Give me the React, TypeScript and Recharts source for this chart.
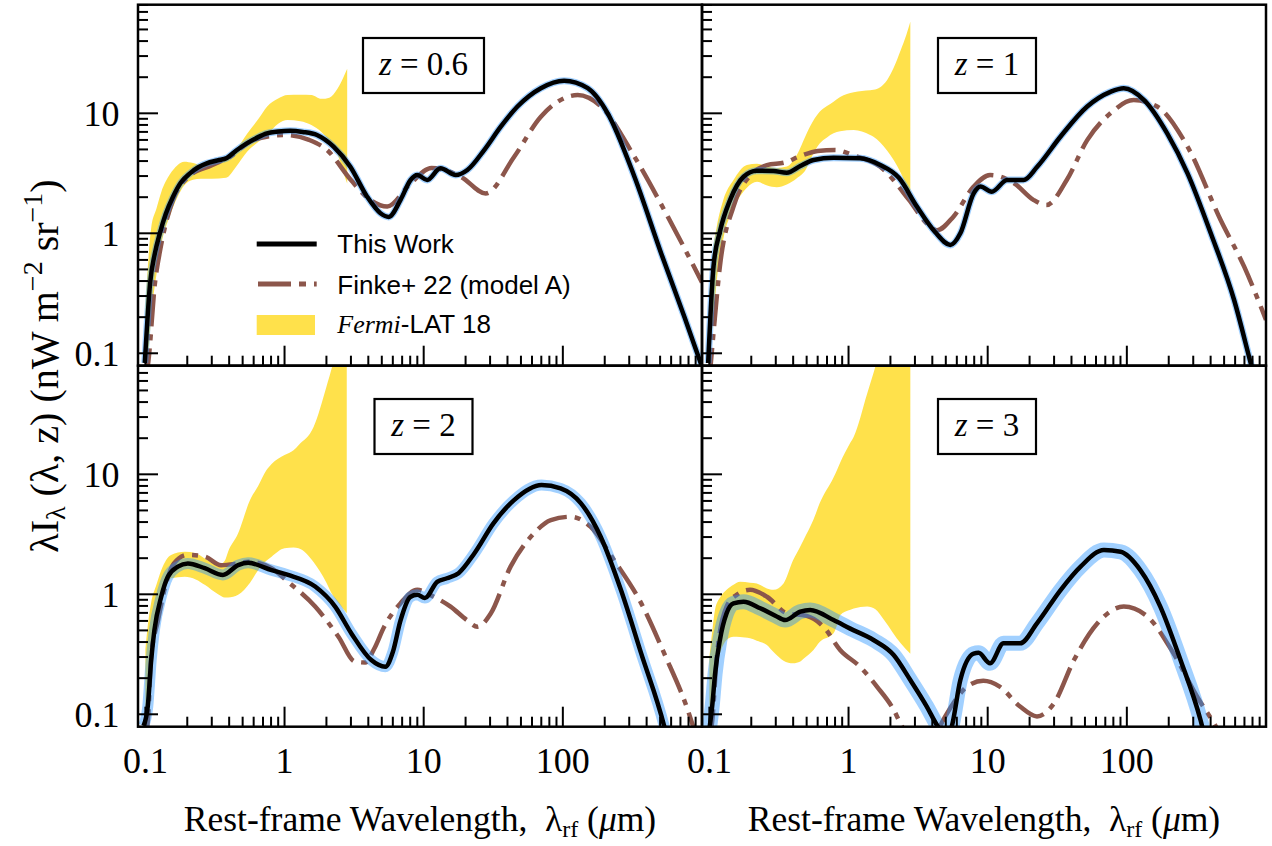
import React from 'react';
import { ComposedChart, Line, Area, XAxis, YAxis } from 'recharts';

// ---------- page & panel geometry ----------
const PAGE_W = 1272;
const PAGE_H = 846;
const COL_LEFT = [138, 702];
const ROW_TOP = [4.7, 365.7];
const PLOT_W = 564;
const PLOT_H = 361;

const X_DOMAIN: [number, number] = [0.0885, 1000];
const Y_DOMAIN: [number, number] = [0.0788, 80.4];

const X_MAJOR = [0.1, 1, 10, 100];
const X_MINOR = [0.2, 0.3, 0.4, 0.5, 0.6, 0.7, 0.8, 0.9, 2, 3, 4, 5, 6, 7, 8, 9, 20, 30, 40, 50, 60, 70, 80, 90, 200, 300, 400, 500, 600, 700, 800, 900];
const Y_MAJOR = [0.1, 1, 10];
const Y_MINOR = [0.2, 0.3, 0.4, 0.5, 0.6, 0.7, 0.8, 0.9, 2, 3, 4, 5, 6, 7, 8, 9, 20, 30, 40, 50, 60, 70, 80];

const COLOR_TW = '#000000';
const COLOR_FINKE = '#8c564b';
const COLOR_FERMI = '#ffe14b';
const COLOR_BAND = '#1e90ff';

const SERIF = '"Liberation Serif", "Times New Roman", serif';
const SANS = '"Liberation Sans", Arial, sans-serif';

// ---------- z = 0.6 ----------
const z06TwLambda = [0.099, 0.102, 0.108, 0.117, 0.127, 0.14, 0.158, 0.18, 0.209, 0.24, 0.276, 0.33, 0.385, 0.45, 0.536, 0.64, 0.747, 0.9, 1.1, 1.35, 1.71, 2.25, 2.97, 3.92, 4.89, 5.61, 6.82, 8.05, 9.0, 10.6, 13.2, 17.0, 20.6, 27.2, 35.8, 47.2, 69.5, 102, 151, 210, 327, 509, 749, 961, 1000];
const z06Tw = [0.083, 0.147, 0.38, 0.68, 1.0, 1.45, 2.02, 2.65, 3.16, 3.55, 3.83, 4.05, 4.25, 4.9, 5.62, 6.3, 6.81, 7.05, 7.16, 7.0, 6.59, 5.27, 3.59, 2.02, 1.47, 1.37, 1.9, 2.78, 3.06, 2.78, 3.48, 3.06, 3.37, 4.94, 7.74, 11.4, 16.2, 18.7, 16.2, 10, 2.96, 0.68, 0.2, 0.088, 0.077];
const z06FinkeLambda = [0.1, 0.105, 0.117, 0.127, 0.14, 0.158, 0.2, 0.3, 0.4, 0.6, 1.0, 1.5, 2.0, 3.0, 4.0, 5.47, 8.05, 11.4, 18.5, 27.9, 44.7, 69.5, 128, 188, 327, 569, 1000];
const z06Finke = [0.06, 0.085, 0.38, 0.7, 1.2, 1.9, 2.9, 3.7, 4.3, 6.0, 6.6, 6.0, 5.0, 2.78, 1.95, 1.67, 2.61, 3.5, 2.96, 2.15, 4.35, 9.37, 14.2, 11.4, 4.35, 1.37, 0.39];
const z06FermiLambda = [0.1, 0.105, 0.11, 0.12, 0.13, 0.15, 0.17, 0.19, 0.22, 0.25, 0.3, 0.38, 0.45, 0.54, 0.65, 0.75, 0.9, 1.05, 1.3, 1.56, 1.84, 2.1, 2.4, 2.65, 2.82];
const z06FermiLo = [0.075, 0.1, 0.2, 0.45, 0.8, 1.4, 2.0, 2.5, 2.8, 2.85, 2.85, 2.9, 3.6, 4.8, 5.8, 6.6, 8.2, 8.8, 8.6, 8.0, 7.0, 5.9, 4.6, 3.2, 2.6];
const z06FermiHi = [0.25, 0.6, 1.1, 1.6, 2.2, 3.1, 3.7, 3.95, 3.85, 3.7, 3.75, 4.1, 5.0, 6.8, 9.0, 11.4, 13.3, 14.2, 14.3, 14.2, 13.2, 13.5, 16, 20, 23.5];

// ---------- z = 1 ----------
const z1TwLambda = [0.098, 0.107, 0.119, 0.141, 0.176, 0.219, 0.289, 0.36, 0.45, 0.56, 0.78, 1.21, 1.69, 2.3, 3.1, 4.2, 5.39, 6.36, 7.93, 8.87, 10.7, 13.8, 18.1, 22.7, 33.3, 51.9, 76.2, 95, 133, 195, 273, 401, 590, 778, 1000];
const z1Tw = [0.083, 0.527, 1.03, 1.9, 2.96, 3.32, 3.3, 3.2, 3.64, 4.08, 4.27, 4.22, 3.71, 2.9, 1.67, 1.02, 0.8, 1.0, 2.15, 2.45, 2.22, 2.78, 2.78, 3.59, 6.38, 11.4, 15.1, 16.2, 12.9, 6.81, 3.16, 1.0, 0.278, 0.082, 0.027];
const z1FinkeLambda = [0.1, 0.107, 0.119, 0.149, 0.2, 0.259, 0.35, 0.45, 0.6, 0.8, 1.09, 1.69, 2.72, 3.64, 4.33, 5.65, 7.93, 10.4, 15.5, 21.3, 26.4, 37, 51.9, 76.2, 112, 165, 273, 472, 697, 1000];
const z1Finke = [0.06, 0.147, 0.53, 1.67, 3.1, 3.7, 3.9, 4.4, 4.85, 4.95, 4.45, 3.59, 1.9, 1.21, 1.06, 1.37, 2.45, 3.06, 2.61, 1.9, 1.72, 2.78, 5.98, 10, 12.9, 11.4, 5.27, 1.29, 0.527, 0.19];
const z1FermiLambda = [0.1, 0.107, 0.113, 0.126, 0.149, 0.186, 0.22, 0.26, 0.305, 0.36, 0.425, 0.5, 0.53, 0.62, 0.7, 0.78, 0.87, 1.09, 1.43, 1.51, 1.89, 2.11, 2.37, 2.6, 2.78];
const z1FermiLo = [0.1, 0.2, 0.4, 0.9, 1.6, 2.4, 2.69, 2.5, 2.42, 2.55, 2.87, 3.5, 4.08, 5.6, 6.3, 6.81, 7.1, 7.25, 6.6, 6.38, 4.9, 4.08, 3.2, 2.5, 2.02];
const z1FermiHi = [0.3, 0.77, 1.14, 1.9, 2.78, 3.71, 3.8, 3.6, 3.5, 3.6, 4.5, 6.8, 7.8, 10.3, 11.5, 12.5, 13.7, 15, 15.6, 15.7, 18.9, 24, 33.6, 45, 58];

// ---------- z = 2 ----------
const z2TwLambda = [0.097, 0.104, 0.11, 0.116, 0.13, 0.145, 0.171, 0.202, 0.267, 0.361, 0.464, 0.548, 0.807, 1.06, 1.66, 2.31, 3.03, 4.2, 5.3, 6.0, 6.8, 8.0, 9.0, 10.2, 12.5, 14.7, 17.8, 23.1, 31.7, 44.6, 70.3, 96.3, 135, 187, 262, 366, 536, 700];
const z2Tw = [0.08, 0.116, 0.28, 0.5, 0.955, 1.4, 1.7, 1.81, 1.65, 1.45, 1.75, 1.83, 1.59, 1.45, 1.16, 0.79, 0.47, 0.283, 0.249, 0.33, 0.6, 0.95, 0.99, 0.93, 1.27, 1.36, 1.5, 2.19, 3.9, 6.1, 8.15, 7.64, 5.73, 3.02, 1.08, 0.32, 0.079, 0.02];
const z2FinkeLambda = [0.1, 0.105, 0.11, 0.123, 0.14, 0.16, 0.2, 0.267, 0.35, 0.45, 0.548, 0.807, 1.06, 1.66, 2.44, 3.2, 3.8, 4.4, 5.2, 6.8, 9.0, 11.8, 15.6, 20.4, 24.3, 30.4, 42.1, 62, 82, 114, 158, 233, 366, 536, 789, 1000];
const z2Finke = [0.06, 0.1, 0.3, 0.6, 1.2, 1.8, 2.13, 2.06, 1.75, 1.8, 1.87, 1.65, 1.27, 0.79, 0.443, 0.275, 0.27, 0.35, 0.537, 0.84, 1.09, 0.955, 0.79, 0.61, 0.537, 0.695, 1.7, 3.22, 4.16, 4.43, 3.66, 1.93, 0.84, 0.32, 0.109, 0.045];
const z2FermiLambda = [0.1, 0.105, 0.11, 0.12, 0.13, 0.153, 0.192, 0.23, 0.267, 0.333, 0.372, 0.393, 0.464, 0.565, 0.646, 0.74, 0.807, 1.0, 1.16, 1.26, 1.62, 2.0, 2.2, 2.5, 2.8];
const z2FermiLo = [0.1, 0.2, 0.35, 0.6, 0.85, 1.36, 1.4, 1.33, 1.2, 1.0, 0.94, 0.94, 0.99, 1.25, 1.59, 1.9, 2.06, 2.42, 2.45, 2.42, 1.85, 1.25, 1.0, 0.82, 0.695];
const z2FermiHi = [0.35, 0.6, 0.85, 1.2, 1.59, 2.13, 2.26, 2.2, 1.99, 1.75, 1.9, 2.26, 3.22, 6.1, 8.0, 10.8, 12.2, 14.5, 15.9, 17.5, 24.9, 53.6, 79, 150, 250];

// ---------- z = 3 ----------
const z3TwLambda = [0.1, 0.105, 0.11, 0.119, 0.133, 0.149, 0.176, 0.232, 0.3, 0.35, 0.45, 0.53, 0.78, 1.02, 1.51, 2.11, 2.78, 3.65, 4.33, 5.0, 5.5, 6.36, 7.93, 8.6, 10.4, 13.0, 17.1, 22.6, 33.3, 46.5, 68.4, 90.3, 125, 174, 243, 338, 400];
const z3Tw = [0.075, 0.12, 0.22, 0.416, 0.695, 0.84, 0.868, 0.765, 0.66, 0.61, 0.716, 0.74, 0.61, 0.52, 0.416, 0.312, 0.193, 0.116, 0.081, 0.065, 0.078, 0.193, 0.32, 0.325, 0.266, 0.39, 0.39, 0.573, 1.08, 1.7, 2.34, 2.26, 1.59, 0.79, 0.283, 0.09, 0.04];
const z3FinkeLambda = [0.1, 0.105, 0.113, 0.133, 0.157, 0.196, 0.259, 0.36, 0.5, 0.66, 0.87, 1.21, 1.6, 2.11, 2.4, 3.0, 4.0, 4.8, 5.65, 7.1, 9.3, 12.2, 17.1, 22.6, 29.9, 41.7, 61.5, 95, 141, 217, 320, 437, 520];
const z3Finke = [0.06, 0.09, 0.3, 0.79, 0.99, 1.09, 0.955, 0.695, 0.66, 0.537, 0.344, 0.249, 0.17, 0.109, 0.081, 0.058, 0.062, 0.09, 0.123, 0.17, 0.19, 0.17, 0.116, 0.096, 0.123, 0.283, 0.573, 0.79, 0.65, 0.32, 0.14, 0.079, 0.055];
const z3FermiLambda = [0.1, 0.105, 0.11, 0.12, 0.133, 0.149, 0.166, 0.196, 0.219, 0.259, 0.289, 0.341, 0.4, 0.45, 0.475, 0.56, 0.62, 0.78, 0.825, 0.87, 1.02, 1.09, 1.36, 1.56, 1.8, 2.37, 2.78];
const z3FermiLo = [0.1, 0.15, 0.22, 0.33, 0.416, 0.443, 0.44, 0.43, 0.41, 0.378, 0.33, 0.28, 0.266, 0.275, 0.29, 0.344, 0.4, 0.473, 0.55, 0.67, 0.74, 0.76, 0.79, 0.75, 0.61, 0.39, 0.32];
const z3FermiHi = [0.3, 0.5, 0.75, 0.95, 1.09, 1.2, 1.27, 1.25, 1.23, 1.12, 1.09, 1.23, 1.93, 2.5, 2.84, 4.2, 5.73, 9.4, 10.8, 12.5, 18, 20.6, 47, 79, 150, 300, 400];

type Row = { w: number; tw?: number; finke?: number; fermi?: [number, number] };

// merge the per-series wavelength grids into one table keyed by wavelength
function buildRows(
  twL: number[], tw: number[],
  fL: number[], f: number[],
  gL: number[], gLo: number[], gHi: number[],
): Row[] {
  const map = new Map<number, Row>();
  const get = (w: number) => {
    let r = map.get(w);
    if (!r) { r = { w }; map.set(w, r); }
    return r;
  };
  twL.forEach((w, i) => { get(w).tw = tw[i]; });
  fL.forEach((w, i) => { get(w).finke = f[i]; });
  gL.forEach((w, i) => { get(w).fermi = [gLo[i], gHi[i]]; });
  return Array.from(map.values()).sort((a, b) => a.w - b.w);
}

const PANELS = [
  { z: '0.6', col: 0, row: 0, band: 7, boxW: 121, rows: buildRows(z06TwLambda, z06Tw, z06FinkeLambda, z06Finke, z06FermiLambda, z06FermiLo, z06FermiHi) },
  { z: '1', col: 1, row: 0, band: 7, boxW: 98, rows: buildRows(z1TwLambda, z1Tw, z1FinkeLambda, z1Finke, z1FermiLambda, z1FermiLo, z1FermiHi) },
  { z: '2', col: 0, row: 1, band: 11, boxW: 98, rows: buildRows(z2TwLambda, z2Tw, z2FinkeLambda, z2Finke, z2FermiLambda, z2FermiLo, z2FermiHi) },
  { z: '3', col: 1, row: 1, band: 15, boxW: 98, rows: buildRows(z3TwLambda, z3Tw, z3FinkeLambda, z3Finke, z3FermiLambda, z3FermiLo, z3FermiHi) },
];

function XTick(props: any) {
  const { x, payload, axisY, showLabel } = props;
  const v = payload.value;
  const major = X_MAJOR.includes(v);
  return (
    <g>
      <line x1={x} x2={x} y1={axisY} y2={axisY - (major ? 20 : 10)} stroke="#000" strokeWidth={2} />
      {major && showLabel ? (
        <text x={x} y={axisY + 46.5} textAnchor="middle" fontFamily={SERIF} fontSize={36} fill="#000">{String(v)}</text>
      ) : null}
    </g>
  );
}

function YTick(props: any) {
  const { y, payload, axisX, showLabel } = props;
  const v = payload.value;
  const major = Y_MAJOR.includes(v);
  return (
    <g>
      <line x1={axisX} x2={axisX + (major ? 20 : 10)} y1={y} y2={y} stroke="#000" strokeWidth={2} />
      {major && showLabel ? (
        <text x={axisX - 18.5} y={y + 12.5} textAnchor="end" fontFamily={SERIF} fontSize={36} fill="#000">{String(v)}</text>
      ) : null}
    </g>
  );
}

function Panel({ col, row, rows, band }: { col: number; row: number; rows: Row[]; band: number }) {
  const left = COL_LEFT[col];
  const top = ROW_TOP[row];
  const bottom = top + PLOT_H;
  // axes get a 1px box just outside the plot area so that they are drawn
  return (
    <div style={{ position: 'absolute', left: 0, top: 0, width: PAGE_W, height: PAGE_H }}>
      <ComposedChart
        width={PAGE_W}
        height={PAGE_H}
        data={rows}
        margin={{ top, left: left - 1, right: PAGE_W - left - PLOT_W, bottom: PAGE_H - bottom - 1 }}
      >
        <Area type="monotone" dataKey="fermi" stroke="none" fill={COLOR_FERMI} fillOpacity={1} connectNulls isAnimationActive={false} />
        <Line type="monotone" dataKey="finke" stroke={COLOR_FINKE} strokeWidth={4.5} strokeDasharray="32 8 6 8" dot={false} connectNulls isAnimationActive={false} />
        <Line type="monotone" dataKey="tw" stroke={COLOR_BAND} strokeOpacity={0.42} strokeWidth={band} strokeLinejoin="round" dot={false} connectNulls isAnimationActive={false} />
        <Line type="monotone" dataKey="tw" stroke={COLOR_TW} strokeWidth={4.5} dot={false} connectNulls isAnimationActive={false} />
        <XAxis
          dataKey="w" type="number" scale="log" domain={X_DOMAIN} allowDataOverflow
          ticks={[...X_MAJOR, ...X_MINOR]} interval={0} height={1}
          axisLine={false} tickLine={false} tickSize={0} tickMargin={0}
          tick={(p: any) => <XTick {...p} axisY={bottom} showLabel={row === 1} />}
        />
        <YAxis
          type="number" scale="log" domain={Y_DOMAIN} allowDataOverflow
          ticks={[...Y_MAJOR, ...Y_MINOR]} interval={0} width={1}
          axisLine={false} tickLine={false} tickSize={0} tickMargin={0}
          tick={(p: any) => <YTick {...p} axisX={left} showLabel={col === 0} />}
        />
      </ComposedChart>
    </div>
  );
}

function Overlay() {
  const boxCenter = [423.5, 987];
  const boxTop = [38, 399];
  return (
    <svg width={PAGE_W} height={PAGE_H} style={{ position: 'absolute', left: 0, top: 0, pointerEvents: 'none' }}>
      {PANELS.map((p) => (
        <rect key={'frame' + p.z} x={COL_LEFT[p.col]} y={ROW_TOP[p.row]} width={PLOT_W} height={PLOT_H} fill="none" stroke="#000" strokeWidth={2.5} />
      ))}
      {PANELS.map((p) => (
        <g key={'box' + p.z}>
          <rect x={boxCenter[p.col] - p.boxW / 2} y={boxTop[p.row]} width={p.boxW} height={55} fill="#fff" stroke="#000" strokeWidth={2.2} />
          <text x={boxCenter[p.col]} y={boxTop[p.row] + 37} textAnchor="middle" fontFamily={SERIF} fontSize={33} fill="#000" style={{ whiteSpace: 'pre' }}>
            <tspan fontStyle="italic">z</tspan>{' = ' + p.z}
          </text>
        </g>
      ))}

      {/* legend */}
      <line x1={256.7} x2={316.7} y1={244} y2={244} stroke={COLOR_TW} strokeWidth={5} />
      <line x1={258} x2={316.7} y1={284} y2={284} stroke={COLOR_FINKE} strokeWidth={5} strokeDasharray="33 8 7 8" />
      <rect x={256.7} y={315} width={58.3} height={20} fill={COLOR_FERMI} />
      <text x={337.3} y={253.3} fontFamily={SANS} fontSize={26} fill="#000">This Work</text>
      <text x={337.3} y={294} fontFamily={SANS} fontSize={26} fill="#000">Finke+ 22 (model A)</text>
      <text x={337.3} y={333.3} fontSize={26} fill="#000">
        <tspan fontFamily={SERIF} fontStyle="italic">Fermi</tspan>
        <tspan fontFamily={SANS}>-LAT 18</tspan>
      </text>

      {/* axis titles */}
      {[0, 1].map((c) => (
        <text key={'xt' + c} x={COL_LEFT[c] + PLOT_W / 2} y={831} textAnchor="middle" fontFamily={SERIF} fontSize={35.5} fill="#000" style={{ whiteSpace: 'pre' }}>
          {'Rest-frame Wavelength,  λ'}
          <tspan fontSize={24} dy={6}>rf</tspan>
          <tspan dy={-6}>{' ('}</tspan>
          <tspan fontStyle="italic">μ</tspan>
          <tspan>m)</tspan>
        </text>
      ))}
      <text transform="translate(58, 366) rotate(-90)" textAnchor="middle" fontFamily={SERIF} fontSize={40} fill="#000" style={{ whiteSpace: 'pre' }}>
        {'λI'}
        <tspan fontSize={28} dy={7}>λ</tspan>
        <tspan dy={-7}>{' (λ, z) (nW m'}</tspan>
        <tspan fontSize={28} dy={-16}>−2</tspan>
        <tspan dy={16}>{' sr'}</tspan>
        <tspan fontSize={28} dy={-16}>−1</tspan>
        <tspan dy={16}>)</tspan>
      </text>
    </svg>
  );
}

export default function App() {
  return (
    <div style={{ position: 'fixed', left: 0, top: 0, width: PAGE_W, height: PAGE_H, background: '#fff', overflow: 'hidden' }}>
      {PANELS.map((p) => (
        <Panel key={p.z} col={p.col} row={p.row} rows={p.rows} band={p.band} />
      ))}
      <Overlay />
    </div>
  );
}
